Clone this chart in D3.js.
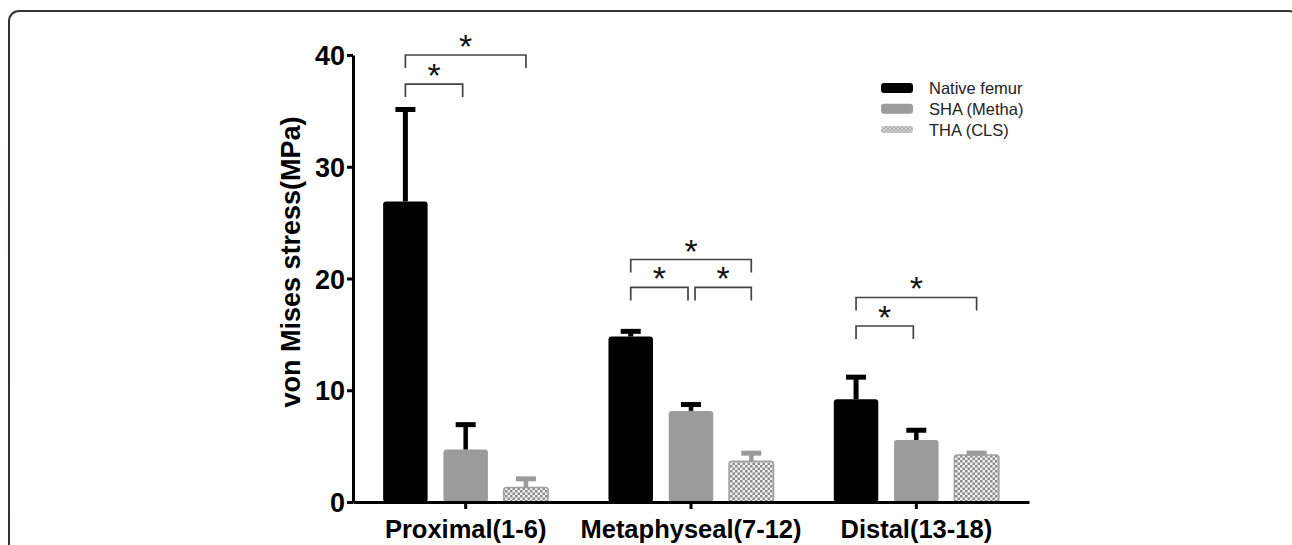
<!DOCTYPE html>
<html>
<head>
<meta charset="utf-8">
<script src="https://cdn.jsdelivr.net/npm/d3@7"></script>
<style>
  body { margin: 0; background: #fff; }
  svg { display: block; font-family: "Liberation Sans", Arial, sans-serif; }
</style>
</head>
<body>
<div id="chart"></div>
<script>
// data
let groups = ["Proximal(1-6)", "Metaphyseal(7-12)", "Distal(13-18)"];
let series = ["Native femur", "SHA (Metha)", "THA (CLS)"];
let nativeFemur = [26.9, 14.8, 9.2];
let nativeErr = [8.4, 0.65, 2.15];
let shaMetha = [4.7, 8.15, 5.55];
let shaErr = [2.4, 0.75, 1.05];
let thaCls = [1.3, 3.65, 4.2];
let thaErr = [0.95, 0.9, 0.35];
let yTicks = [0, 10, 20, 30, 40];

// significance brackets: group, from series, to series, level (MPa)
let sigGroup = [0, 0, 1, 1, 1, 2, 2];
let sigFrom = [0, 0, 0, 0, 1, 0, 0];
let sigTo = [1, 2, 2, 1, 2, 1, 2];
let sigLevel = [37.4, 40.0, 21.7, 19.2, 19.2, 15.75, 18.3];

let values = [nativeFemur, shaMetha, thaCls];
let errors = [nativeErr, shaErr, thaErr];

let width = 1292;
let height = 545;

let svg = d3.select("#chart")
    .append("svg")
    .attr("width", width)
    .attr("height", height);

// checker pattern for THA bars
let defs = svg.append("defs");
let pat = defs.append("pattern")
    .attr("id", "checker")
    .attr("patternUnits", "userSpaceOnUse")
    .attr("width", 5)
    .attr("height", 5);
pat.append("rect").attr("width", 5).attr("height", 5).attr("fill", "#f2f2f2");
pat.append("rect").attr("width", 2.5).attr("height", 2.5).attr("fill", "#8c8c8c");
pat.append("rect").attr("x", 2.5).attr("y", 2.5).attr("width", 2.5).attr("height", 2.5).attr("fill", "#8c8c8c");

let patL = defs.append("pattern")
    .attr("id", "checkerLight")
    .attr("patternUnits", "userSpaceOnUse")
    .attr("width", 4)
    .attr("height", 4);
patL.append("rect").attr("width", 4).attr("height", 4).attr("fill", "#d8d8d8");
patL.append("rect").attr("width", 2).attr("height", 2).attr("fill", "#aaaaaa");
patL.append("rect").attr("x", 2).attr("y", 2).attr("width", 2).attr("height", 2).attr("fill", "#aaaaaa");

// frame
svg.append("rect")
    .attr("x", 9)
    .attr("y", 11)
    .attr("width", 1290)
    .attr("height", 560)
    .attr("rx", 10)
    .attr("fill", "none")
    .attr("stroke", "#333")
    .attr("stroke-width", 2);

let x0 = d3.scaleBand()
    .domain(groups)
    .range([353, 1029]);

let x1 = d3.scaleBand()
    .domain(d3.range(series.length))
    .range([0, x0.bandwidth()])
    .paddingInner(0.262)
    .paddingOuter(0.5);

let y = d3.scaleLinear()
    .domain([0, 40])
    .range([502, 55]);

let fills = ["#000", "#9b9b9b", "url(#checker)"];
let errColor = ["#000", "#000", "#9b9b9b"];

// bars
let g = svg.append("g");
series.forEach(function(s, si) {
    let sg = g.append("g").attr("class", "series");
    sg.selectAll("rect")
        .data(groups)
        .enter().append("rect")
        .attr("x", (d) => x0(d) + x1(si))
        .attr("y", (d, i) => y(values[si][i]))
        .attr("width", x1.bandwidth())
        .attr("height", (d, i) => y(0) - y(values[si][i]))
        .attr("rx", 3)
        .attr("fill", fills[si])
        .attr("stroke", si === 2 ? "#a0a0a0" : "none")
        .attr("stroke-width", 1.5);

    // error bars (upper only)
    let cx = (d) => x0(d) + x1(si) + x1.bandwidth() / 2;
    let sw = si === 0 ? 5 : 4.5;
    sg.selectAll("line.stem")
        .data(groups)
        .enter().append("line")
        .attr("class", "stem")
        .attr("x1", cx)
        .attr("x2", cx)
        .attr("y1", (d, i) => y(values[si][i]))
        .attr("y2", (d, i) => y(values[si][i] + errors[si][i]))
        .attr("stroke", errColor[si])
        .attr("stroke-width", sw);
    sg.selectAll("line.cap")
        .data(groups)
        .enter().append("line")
        .attr("class", "cap")
        .attr("x1", (d) => cx(d) - 10)
        .attr("x2", (d) => cx(d) + 10)
        .attr("y1", (d, i) => y(values[si][i] + errors[si][i]) + 2)
        .attr("y2", (d, i) => y(values[si][i] + errors[si][i]) + 2)
        .attr("stroke", errColor[si])
        .attr("stroke-width", 5);
});

// axes
let yAxis = svg.append("g")
    .attr("transform", "translate(353,0)")
    .call(d3.axisLeft(y).tickValues(yTicks).tickSize(6).tickSizeOuter(0).tickPadding(2));
yAxis.select(".domain").attr("stroke", "#000").attr("stroke-width", 3);
yAxis.selectAll(".tick line").attr("stroke", "#000").attr("stroke-width", 3);
yAxis.selectAll(".tick text")
    .attr("fill", "#000")
    .attr("dy", "0.36em")
    .style("font-size", "27px")
    .style("font-weight", "bold")
    .style("font-family", "'Liberation Sans', Arial, sans-serif");

let xAxis = svg.append("g")
    .attr("transform", "translate(0,502)")
    .call(d3.axisBottom(x0).tickSize(7).tickSizeOuter(0).tickPadding(11));
xAxis.select(".domain").attr("stroke", "#000").attr("stroke-width", 3);
xAxis.selectAll(".tick line").attr("stroke", "#000").attr("stroke-width", 3);
xAxis.selectAll(".tick text")
    .attr("fill", "#000")
    .style("font-size", "25.5px")
    .style("font-weight", "bold")
    .style("font-family", "'Liberation Sans', Arial, sans-serif");

svg.append("text")
    .attr("transform", "translate(300,262) rotate(-90)")
    .attr("text-anchor", "middle")
    .style("font-size", "27px")
    .style("font-weight", "bold")
    .text("von Mises stress(MPa)");

// significance brackets
let sig = svg.append("g").attr("class", "sig");
sigGroup.forEach(function(gi, k) {
    let a = x0(groups[gi]) + x1(sigFrom[k]) + x1.bandwidth() / 2;
    let b = x0(groups[gi]) + x1(sigTo[k]) + x1.bandwidth() / 2;
    let inset = (sigTo[k] - sigFrom[k] === 1) ? 3 : 0;
    a += sigFrom[k] === 1 ? inset + 1 : 0;
    b -= sigTo[k] === 1 ? inset : 0;
    let ly = y(sigLevel[k]);
    sig.append("path")
        .attr("d", "M" + a + "," + (ly + 13) + "V" + ly + "H" + b + "V" + (ly + 13))
        .attr("fill", "none")
        .attr("stroke", "#444")
        .attr("stroke-width", 1.7);
    sig.append("text")
        .attr("x", (a + b) / 2)
        .attr("y", ly + 3)
        .attr("text-anchor", "middle")
        .style("font-size", "34px")
        .attr("fill", "#111")
        .text("*");
});

// legend
let legendFills = ["#000", "#9b9b9b", "url(#checkerLight)"];
let legendG = svg.selectAll(".legend")
    .data(series)
    .enter().append("g")
    .attr("class", "legend")
    .attr("transform", (d, i) => "translate(881," + (88 + i * 20.8) + ")");

legendG.append("rect")
    .attr("x", 0)
    .attr("y", (d, i) => i === 2 ? -3.5 : -5)
    .attr("width", 32)
    .attr("height", (d, i) => i === 2 ? 7 : 10)
    .attr("rx", 3)
    .attr("fill", (d, i) => legendFills[i]);

legendG.append("text")
    .text((d) => d)
    .attr("x", 48)
    .attr("y", 6)
    .attr("fill", "#222")
    .style("font-size", "16.5px");
</script>
</body>
</html>
